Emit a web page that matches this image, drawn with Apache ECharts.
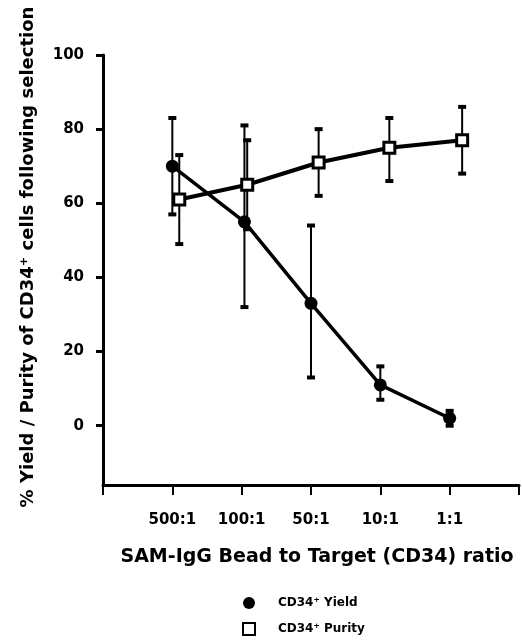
<!DOCTYPE html>
<html>
<head>
<meta charset="utf-8">
<script src="https://cdn.jsdelivr.net/npm/echarts@6/dist/echarts.min.js"></script>
<style>
	html, body { margin: 0; padding: 0; background: #fff; }
	#chart { width: 522px; height: 641px; }
</style>
</head>
<body>
<div id="chart"></div>
<script>
// ratio categories (placed at x = 1..5)
var ratios = ['500:1', '100:1', '50:1', '10:1', '1:1'];

// CD34+ yield (%)
var yieldMean = [70, 55, 33, 11, 2];
var yieldHigh = [83, 81, 54, 16, 4];
var yieldLow = [57, 32, 13, 7, 0];
var yieldX = [1, 2.04, 3, 4, 5];

// CD34+ purity (%)
var purityMean = [61, 65, 71, 75, 77];
var purityHigh = [73, 77, 80, 83, 86];
var purityLow = [49, 53, 62, 66, 68];
var purityX = [1.1, 2.08, 3.11, 4.13, 5.18];

var yTicks = [0, 20, 40, 60, 80, 100];

var FONT = '"DejaVu Sans", "Liberation Sans", sans-serif';

function points(xs, ys) {
	return xs.map(function(x, i) { return [x, ys[i]]; });
}

function bars(xs, lows, highs) {
	return xs.map(function(x, i) { return [x, lows[i], highs[i]]; });
}

// error bar drawing
function errorBar(params, api) {
	var x = api.value(0);
	var lo = api.coord([x, api.value(1)]);
	var hi = api.coord([x, api.value(2)]);
	var cap = 4;
	var style = { stroke: '#000', lineWidth: 2 };
	var capStyle = { stroke: '#000', lineWidth: 4 };
	return {
		type: 'group',
		children: [
			{ type: 'line', shape: { x1: hi[0], y1: hi[1], x2: lo[0], y2: lo[1] }, style: style },
			{ type: 'line', shape: { x1: hi[0] - cap, y1: hi[1], x2: hi[0] + cap, y2: hi[1] }, style: capStyle },
			{ type: 'line', shape: { x1: lo[0] - cap, y1: lo[1], x2: lo[0] + cap, y2: lo[1] }, style: capStyle }
		]
	};
}

var chart = echarts.init(document.getElementById('chart'));
var option = {
	animation: false,
	backgroundColor: '#fff',
	grid: {
		left: 103,
		right: 3,
		top: 55,
		bottom: 156
	},
	legend: {
		orient: 'vertical',
		left: 242,
		top: 597,
		padding: 0,
		itemGap: 13,
		itemWidth: 12,
		itemHeight: 12,
		textStyle: { fontFamily: FONT, fontWeight: 'bold', fontSize: 12, color: '#000', padding: [0, 0, 0, 18] },
		data: [
			{ name: 'CD34⁺ Yield', icon: 'circle' },
			{ name: 'CD34⁺ Purity', icon: 'rect' }
		]
	},
	xAxis: {
		type: 'value',
		min: 0,
		max: 6,
		interval: 1,
		splitLine: { show: false },
		axisLine: { onZero: false, lineStyle: { color: '#000', width: 3 } },
		axisTick: { inside: false, length: 10, lineStyle: { color: '#000', width: 2 } },
		axisLabel: {
			margin: 28,
			fontFamily: FONT,
			fontWeight: 'bold',
			fontSize: 15,
			color: '#000',
			formatter: function(v) { return ratios[v - 1] || ''; }
		},
		name: 'SAM-IgG Bead to Target (CD34) ratio',
		nameLocation: 'middle',
		nameGap: 63,
		nameTextStyle: { fontFamily: FONT, fontWeight: 'bold', fontSize: 19, color: '#000', padding: [0, 0, 0, 12] }
	},
	yAxis: {
		type: 'value',
		min: -16,
		max: 100,
		splitLine: { show: false },
		axisLine: { onZero: false, lineStyle: { color: '#000', width: 3 } },
		axisTick: { customValues: yTicks, length: 7, lineStyle: { color: '#000', width: 3 } },
		axisLabel: {
			customValues: yTicks,
			margin: 19,
			fontFamily: FONT,
			fontWeight: 'bold',
			fontSize: 15,
			color: '#000'
		},
		name: '% Yield / Purity of CD34⁺ cells following selection',
		nameLocation: 'middle',
		nameGap: 66,
		nameTextStyle: { fontFamily: FONT, fontWeight: 'bold', fontSize: 18, color: '#000', padding: [0, 0, 0, 26] }
	},
	series: [
		{
			name: 'yieldErr',
			type: 'custom',
			renderItem: errorBar,
			data: bars(yieldX, yieldLow, yieldHigh),
			z: 2
		},
		{
			name: 'purityErr',
			type: 'custom',
			renderItem: errorBar,
			data: bars(purityX, purityLow, purityHigh),
			z: 2
		},
		{
			name: 'CD34⁺ Yield',
			type: 'line',
			data: points(yieldX, yieldMean),
			symbol: 'circle',
			symbolSize: 13,
			itemStyle: { color: '#000' },
			lineStyle: { color: '#000', width: 3.5 },
			z: 3
		},
		{
			name: 'CD34⁺ Purity',
			type: 'line',
			data: points(purityX, purityMean),
			symbol: 'rect',
			symbolSize: 11,
			itemStyle: { color: '#fff', borderColor: '#000', borderWidth: 3 },
			lineStyle: { color: '#000', width: 4 },
			z: 4
		}
	]
};
chart.setOption(option);
</script>
</body>
</html>
